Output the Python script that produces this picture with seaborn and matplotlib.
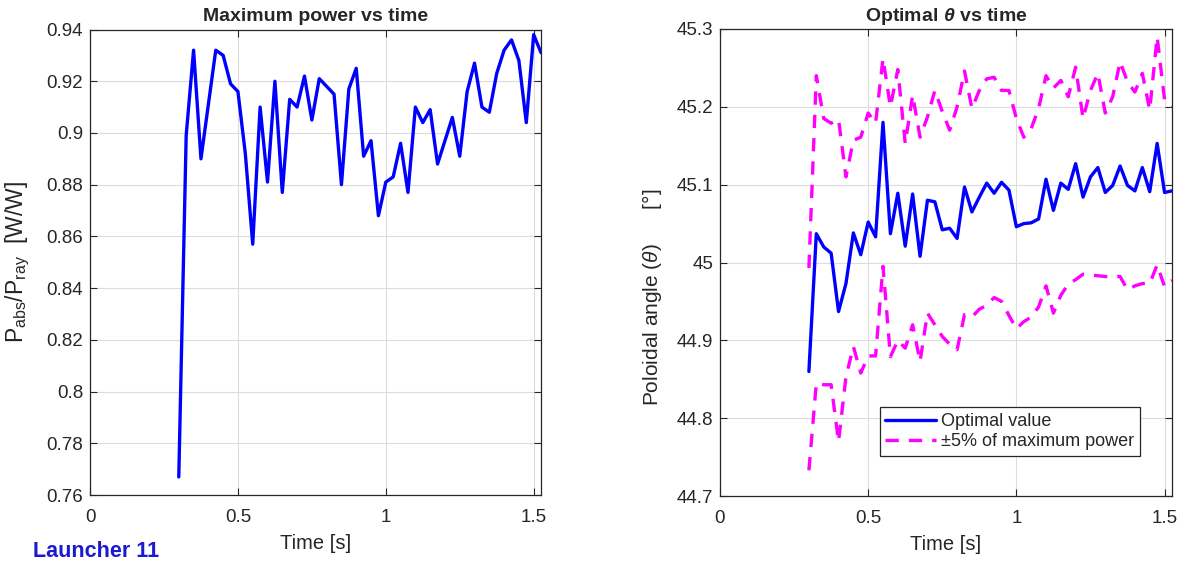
import numpy as np
import pandas as pd
import matplotlib
matplotlib.use("Agg")
import matplotlib.pyplot as plt
import seaborn as sns

# ---------------- data ----------------
time_s = [0.300, 0.325, 0.350, 0.375, 0.400, 0.425, 0.450, 0.475, 0.500, 0.525,
          0.550, 0.575, 0.600, 0.625, 0.650, 0.675, 0.700, 0.725, 0.750, 0.775,
          0.800, 0.825, 0.850, 0.875, 0.900, 0.925, 0.950, 0.975, 1.000, 1.025,
          1.050, 1.075, 1.100, 1.125, 1.150, 1.175, 1.200, 1.225, 1.250, 1.275,
          1.300, 1.325, 1.350, 1.375, 1.400, 1.425, 1.450, 1.475, 1.500, 1.525]

max_power = [0.767, 0.899, 0.932, 0.890, 0.911, 0.932, 0.930, 0.919, 0.916, 0.892,
             0.857, 0.910, 0.881, 0.920, 0.877, 0.913, 0.910, 0.922, 0.905, 0.921,
             0.918, 0.915, 0.880, 0.917, 0.925, 0.891, 0.897, 0.868, 0.881, 0.883,
             0.896, 0.877, 0.910, 0.904, 0.909, 0.888, 0.897, 0.906, 0.891, 0.916,
             0.927, 0.910, 0.908, 0.923, 0.932, 0.936, 0.928, 0.904, 0.938, 0.931]

theta_opt = [44.860, 45.037, 45.020, 45.012, 44.937, 44.973, 45.038, 45.010, 45.052, 45.033,
             45.180, 45.037, 45.089, 45.021, 45.088, 45.008, 45.080, 45.078, 45.042, 45.044,
             45.031, 45.097, 45.065, 45.084, 45.102, 45.089, 45.103, 45.093, 45.046, 45.050,
             45.051, 45.056, 45.107, 45.067, 45.102, 45.094, 45.127, 45.084, 45.110, 45.122,
             45.090, 45.099, 45.124, 45.099, 45.092, 45.122, 45.091, 45.153, 45.090, 45.092]

theta_upper = [44.993, 45.240, 45.185, 45.179, 45.184, 45.110, 45.157, 45.161, 45.192, 45.179,
               45.262, 45.200, 45.248, 45.153, 45.215, 45.161, 45.187, 45.221, 45.194, 45.170,
               45.200, 45.246, 45.198, 45.221, 45.236, 45.238, 45.221, 45.221, 45.185, 45.161,
               45.172, 45.198, 45.240, 45.224, 45.234, 45.213, 45.251, 45.185, 45.221, 45.243,
               45.192, 45.213, 45.258, 45.232, 45.219, 45.243, 45.196, 45.290, 45.209, 45.200]

theta_lower = [44.733, 44.845, 44.843, 44.843, 44.770, 44.853, 44.892, 44.858, 44.880, 44.880,
               44.995, 44.879, 44.900, 44.890, 44.920, 44.873, 44.935, 44.920, 44.905, 44.895,
               44.888, 44.933, 44.930, 44.940, 44.945, 44.955, 44.950, 44.932, 44.915, 44.924,
               44.930, 44.943, 44.970, 44.935, 44.958, 44.972, 44.978, 44.985, 44.984, 44.983,
               44.982, 44.982, 44.982, 44.965, 44.970, 44.973, 44.973, 44.997, 44.969, 44.977]

x_ticks = [0, 0.5, 1, 1.5]
x_tick_labels = ["0", "0.5", "1", "1.5"]
left_y_ticks = [0.76, 0.78, 0.80, 0.82, 0.84, 0.86, 0.88, 0.90, 0.92, 0.94]
left_y_labels = ["0.76", "0.78", "0.8", "0.82", "0.84", "0.86", "0.88", "0.9", "0.92", "0.94"]
right_y_ticks = [44.7, 44.8, 44.9, 45.0, 45.1, 45.2, 45.3]
right_y_labels = ["44.7", "44.8", "44.9", "45", "45.1", "45.2", "45.3"]

df = pd.DataFrame({"t": time_s, "p": max_power, "opt": theta_opt,
                   "up": theta_upper, "lo": theta_lower})

# ---------------- style ----------------
sns.set_theme(style="whitegrid")
plt.rcParams["font.family"] = ["Liberation Sans", "DejaVu Sans"]
plt.rcParams["mathtext.fontset"] = "custom"
plt.rcParams["mathtext.rm"] = "Liberation Sans"
plt.rcParams["mathtext.it"] = "Liberation Sans:italic"
plt.rcParams["mathtext.bf"] = "Liberation Sans:bold"
plt.rcParams["mathtext.bfit"] = "Liberation Sans:italic:bold"

BLUE = "#0000FF"
MAG = "#FF00FF"
DASH = (0, (4, 3))

fig = plt.figure(figsize=(11.96, 5.62), dpi=100)
fig.patch.set_facecolor("white")
ax1 = fig.add_axes([0.0753, 0.1192, 0.3771, 0.8283])
ax2 = fig.add_axes([0.6020, 0.1174, 0.3779, 0.8310])

sns.lineplot(data=df, x="t", y="p", ax=ax1, color=BLUE, linewidth=2.4,
             estimator=None, sort=False)
sns.lineplot(data=df, x="t", y="opt", ax=ax2, color=BLUE, linewidth=2.4,
             estimator=None, sort=False, label="Optimal value")
sns.lineplot(data=df, x="t", y="up", ax=ax2, color=MAG, linewidth=2.4,
             linestyle=DASH, estimator=None, sort=False,
             label="\u00b15% of maximum power")
sns.lineplot(data=df, x="t", y="lo", ax=ax2, color=MAG, linewidth=2.4,
             linestyle=DASH, estimator=None, sort=False, label="_nolegend_")

for ax in (ax1, ax2):
    ax.set_facecolor("white")
    ax.set_xlim(0, 1.525)
    ax.set_xticks(x_ticks)
    ax.set_xticklabels(x_tick_labels)
    ax.grid(True, color="#dcdcdc", linewidth=0.8)
    for s in ax.spines.values():
        s.set_visible(True)
        s.set_color("#262626")
        s.set_linewidth(0.9)
    ax.tick_params(axis="both", which="both", direction="in", length=5,
                   width=0.8, color="#262626", labelsize=13.5, labelcolor="#262626",
                   top=True, right=True, bottom=True, left=True, pad=5)
    ax.tick_params(axis="x", pad=10)
    ax.set_xlabel("Time [s]", fontsize=14.5, color="#262626", labelpad=6)

ax1.set_ylim(0.76, 0.94)
ax1.set_yticks(left_y_ticks)
ax1.set_yticklabels(left_y_labels)
ax1.set_ylabel(r"P$_{\mathrm{abs}}$/P$_{\mathrm{ray}}$  [W/W]", fontsize=16.5,
               color="#262626")
ax1.yaxis.set_label_coords(-0.128, 0.5)
ax1.set_title("Maximum power vs time", fontsize=14, fontweight="bold", pad=6)

ax2.set_ylim(44.7, 45.3)
ax2.set_yticks(right_y_ticks)
ax2.set_yticklabels(right_y_labels)
ax2.set_ylabel("Poloidal angle ($\\theta$)      [°]", fontsize=15, color="#262626")
ax2.yaxis.set_label_coords(-0.124, 0.425)
ax2.set_title(r"Optimal $\boldsymbol{\theta}$ vs time", fontsize=14, fontweight="bold", pad=6)

leg = ax2.legend(loc="lower right", bbox_to_anchor=(0.929, 0.086), fontsize=13,
                 frameon=True, fancybox=False, framealpha=1, edgecolor="#262626",
                 handlelength=2.8, handletextpad=0.3, borderpad=0.3,
                 labelspacing=0.2, borderaxespad=0)
leg.get_frame().set_linewidth(0.9)

fig.text(0.028, 0.009, "Launcher 11", fontsize=15.5, fontweight="bold",
         color="#1a1ad0", ha="left", va="baseline")

fig.savefig("out.png", dpi=100, facecolor="white")
